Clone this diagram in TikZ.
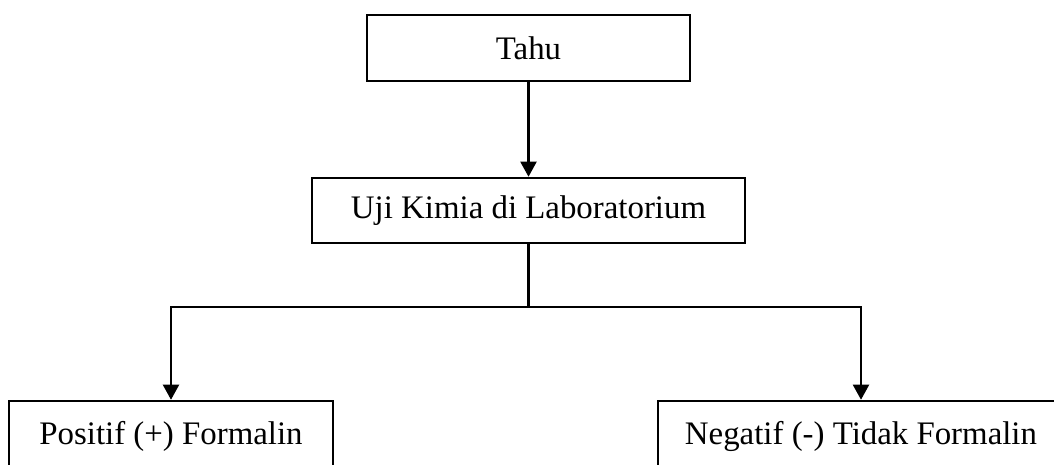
\documentclass[tikz,border=0pt]{standalone}
\usepackage{fontspec}
\setmainfont{Liberation Serif}
\usetikzlibrary{arrows.meta}

\begin{document}
\begin{tikzpicture}[x=0.01283cm,y=-0.01283cm,
  kotak/.style={draw,line width=0.9pt,inner sep=0pt,font=\fontsize{12}{14}\selectfont},
  panah/.style={line width=0.9pt,-{Triangle[length=5.5pt,width=5.8pt]}},
  garis/.style={line width=0.9pt}]
\useasboundingbox (0,0) rectangle (1054,465);
\clip (0,0) rectangle (1054,465);

\node[kotak,minimum width=323*0.01283cm,minimum height=66*0.01283cm] (tahu) at (528.5,48) {Tahu};
\node[kotak,minimum width=433*0.01283cm,minimum height=65*0.01283cm] (uji) at (528.5,210.5) {Uji Kimia di Laboratorium};
\node[kotak,minimum width=324*0.01283cm,minimum height=70*0.01283cm] (positif) at (171,436) {Positif (+) Formalin};
\node[kotak,minimum width=406*0.01283cm,minimum height=70*0.01283cm] (negatif) at (861,436) {Negatif (-) Tidak Formalin};

\coordinate (cabang) at (528.5,307);

\draw[panah] (tahu) -- (uji);
\draw[garis] (uji) -- (cabang);
\draw[panah] (cabang) -| (positif);
\draw[panah] (cabang) -| (negatif);
\end{tikzpicture}
\end{document}
